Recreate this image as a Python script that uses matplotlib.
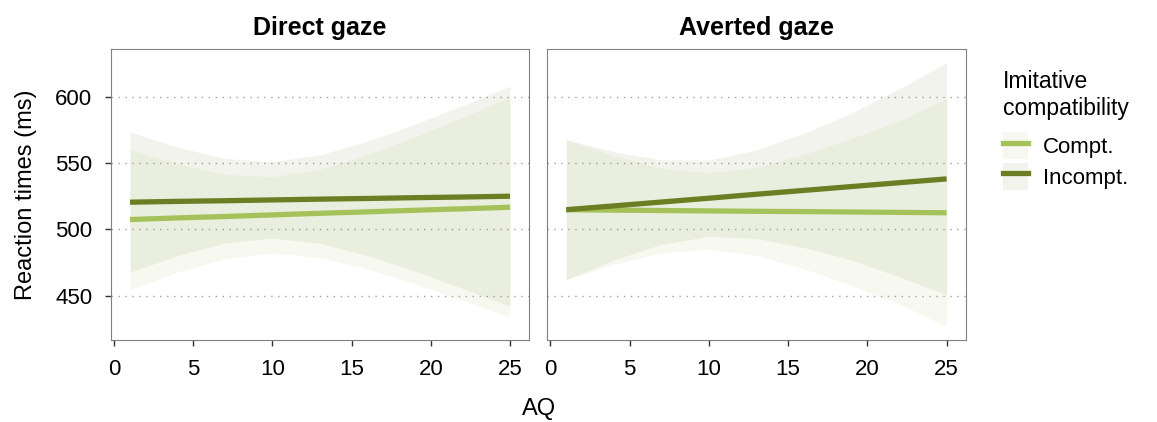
import matplotlib.pyplot as plt
from matplotlib.patches import Patch
from matplotlib.lines import Line2D

plt.rcParams['font.family'] = ['Liberation Sans', 'DejaVu Sans']

aq = [1, 4, 7, 10, 13, 16, 19, 22, 25]
panels = ["Direct gaze", "Averted gaze"]
groups = ["Compt.", "Incompt."]
colors = {"Compt.": "#a5c25a", "Incompt.": "#6b7e24"}

# fitted line + ribbon
fit = {
    ("Direct gaze", "Compt."): [507.5, 508.7, 509.8, 511.0, 512.2, 513.3, 514.5, 515.6, 516.8],
    ("Direct gaze", "Incompt."): [520.6, 521.2, 521.7, 522.3, 522.9, 523.4, 524.0, 524.5, 525.1],
    ("Averted gaze", "Compt."): [514.9, 514.6, 514.3, 514.0, 513.7, 513.5, 513.2, 512.9, 512.6],
    ("Averted gaze", "Incompt."): [514.9, 517.8, 520.7, 523.6, 526.6, 529.5, 532.4, 535.3, 538.2],
}
lower = {
    ("Direct gaze", "Compt."): [454.6, 467.8, 477.9, 482.2, 478.8, 470.1, 459.0, 446.6, 433.6],
    ("Direct gaze", "Incompt."): [467.7, 480.3, 489.8, 493.5, 489.5, 480.2, 468.5, 455.5, 441.9],
    ("Averted gaze", "Compt."): [462.0, 473.7, 482.4, 485.2, 480.3, 470.3, 457.7, 443.9, 426.6],
    ("Averted gaze", "Incompt."): [462.0, 476.9, 488.8, 494.8, 493.2, 486.3, 476.9, 464.3, 450.7],
}
upper = {
    ("Direct gaze", "Compt."): [560.4, 549.6, 541.7, 539.8, 545.6, 556.5, 570.0, 584.6, 600.0],
    ("Direct gaze", "Incompt."): [573.5, 562.1, 553.6, 551.1, 556.3, 566.6, 579.5, 593.5, 608.3],
    ("Averted gaze", "Compt."): [567.8, 555.5, 546.2, 542.8, 547.1, 556.7, 568.7, 581.9, 598.6],
    ("Averted gaze", "Incompt."): [567.8, 558.7, 552.6, 552.4, 560.0, 572.7, 587.9, 606.3, 625.7],
}

fig = plt.figure(figsize=(11.57, 4.22), dpi=100)
ax1 = fig.add_axes([0.0959, 0.1943, 0.3613, 0.6896])
ax2 = fig.add_axes([0.4730, 0.1943, 0.3616, 0.6896], sharey=ax1)

for ax, panel in zip([ax1, ax2], panels):
    for g in groups:
        ax.fill_between(aq, lower[(panel, g)], upper[(panel, g)],
                        color=colors[g], alpha=0.085, lw=0)
    for g in groups:
        ax.plot(aq, fit[(panel, g)], color=colors[g], lw=3.8, solid_capstyle="butt")
    ax.set_xlim(-0.2, 26.2)
    ax.set_ylim(416.5, 636.3)
    ax.set_xticks([0, 5, 10, 15, 20, 25])
    ax.set_yticks([450, 500, 550, 600])
    ax.grid(axis="y", linestyle=(0, (1, 4)), color="#a0a0a0", lw=1)
    ax.set_axisbelow(True)
    for s in ax.spines.values():
        s.set_color("#808080")
        s.set_linewidth(0.8)
    ax.tick_params(direction="out", length=4.5, width=1, color="#333333",
                   labelsize=16, labelcolor="black", pad=9)
    ax.set_title(panel, fontweight="bold", fontsize=18, pad=10)

ax2.tick_params(axis="y", left=False, labelleft=False)
ax1.set_ylabel("Reaction times (ms)", fontsize=17, labelpad=13)
fig.text(0.466, 0.03, "AQ", fontsize=17, ha="center", va="center")

handles = [(Patch(facecolor=colors[g], alpha=0.085, lw=0),
            Line2D([], [], color=colors[g], lw=3.8)) for g in groups]
leg = fig.legend(handles, groups, loc="upper left", bbox_to_anchor=(0.859, 0.855),
                 frameon=False, fontsize=16, title="Imitative\ncompatibility",
                 title_fontsize=16.5, handlelength=1.15, handleheight=1.5,
                 handletextpad=0.65, labelspacing=0.15, borderaxespad=0)
leg._legend_box.align = "left"
leg._legend_box.sep = 9

fig.savefig("out.png", dpi=100)
